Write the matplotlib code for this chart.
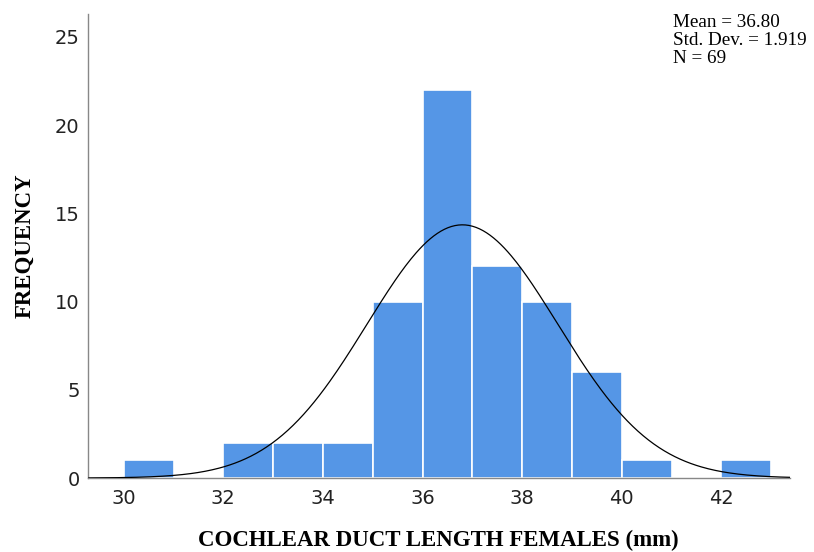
import numpy as np
import matplotlib.pyplot as plt

# bin edges (mm) and counts per bin
bin_edges = np.arange(30, 44, 1)
counts = [1, 0, 2, 2, 2, 10, 22, 12, 10, 6, 1, 0, 1]
mean = 36.80
std = 1.919
n = 69

bar_color = '#5596E6'

fig = plt.figure(figsize=(8.14, 5.52), dpi=100)
ax = fig.add_axes([0.108, 0.134, 0.862, 0.841])

ax.bar(bin_edges[:-1], counts, width=1.0, align='edge',
       color=bar_color, edgecolor='white', linewidth=1.2, zorder=2)

# fitted normal curve scaled to counts
xs = np.linspace(29.3, 43.4, 400)
ys = n * 1.0 * np.exp(-0.5 * ((xs - mean) / std) ** 2) / (std * np.sqrt(2 * np.pi))
ax.plot(xs, ys, color='black', linewidth=0.9, zorder=3)

ax.set_xlim(29.28, 43.37)
ax.set_ylim(0, 26.3)
ax.set_xticks(np.arange(30, 43, 2))
ax.set_yticks(np.arange(0, 26, 5))
ax.tick_params(length=0, labelsize=14, labelcolor='#222222')
ax.tick_params(axis='y', pad=6)
ax.tick_params(axis='x', pad=8)

for side in ['top', 'right']:
    ax.spines[side].set_visible(False)
for side in ['left', 'bottom']:
    ax.spines[side].set_color('#888888')
    ax.spines[side].set_linewidth(1.0)

ax.set_xlabel('COCHLEAR DUCT LENGTH FEMALES (mm)', family='Liberation Serif',
              fontweight='bold', fontsize=16.5, labelpad=16)
ax.set_ylabel('FREQUENCY', family='Liberation Serif',
              fontweight='bold', fontsize=16.5, labelpad=14)

fig.text(0.827, 0.975, f'Mean = {mean:.2f}\nStd. Dev. = {std:.3f}\nN = {n}',
         family='Liberation Serif', fontsize=13.8, va='top', ha='left',
         linespacing=1.1)

fig.savefig('out.png', dpi=100)
